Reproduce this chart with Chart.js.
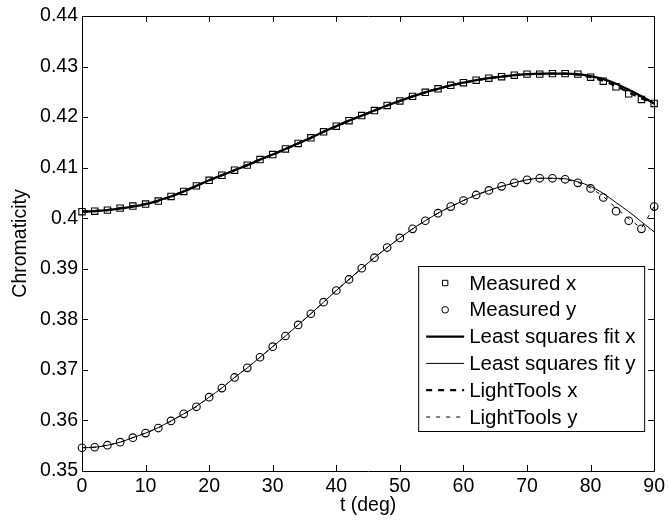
<!DOCTYPE html>
<html>
<head>
<meta charset="utf-8">
<script src="https://cdn.jsdelivr.net/npm/chart.js@4.4.1/dist/chart.umd.min.js"></script>
<style>
html,body{margin:0;padding:0;background:#fff;}
#c{display:block;}
</style>
</head>
<body>
<canvas id="c" width="669" height="522"></canvas>
<script>
// ---- data ----
const angles = [0,2,4,6,8,10,12,14,16,18,20,22,24,26,28,30,32,34,36,38,40,42,44,46,48,50,52,54,56,58,60,62,64,66,68,70,72,74,76,78,80,82,84,86,88,90];

const measuredX = [0.4013,0.4014,0.4016,0.4020,0.4024,0.4028,0.4034,0.4043,0.4053,0.4064,0.4075,0.4085,0.4095,0.4105,0.4116,0.4126,0.4137,0.4148,0.4159,0.4171,0.4182,0.4193,0.4203,0.4213,0.4223,0.4232,0.4241,0.4249,0.4256,0.4263,0.4268,0.4273,0.4277,0.4280,0.4283,0.4285,0.4285,0.4286,0.4286,0.4285,0.4279,0.4271,0.4260,0.4246,0.4235,0.4227];

const measuredY = [0.3546,0.3547,0.3551,0.3557,0.3566,0.3575,0.3585,0.3599,0.3613,0.3627,0.3646,0.3664,0.3685,0.3704,0.3725,0.3746,0.3767,0.3789,0.3811,0.3834,0.3857,0.3879,0.3901,0.3922,0.3942,0.3961,0.3979,0.3995,0.4010,0.4023,0.4035,0.4046,0.4055,0.4063,0.4070,0.4076,0.4079,0.4079,0.4077,0.4070,0.4059,0.4041,0.4014,0.3995,0.3979,0.4023];

const fitX = [0.4013,0.4014,0.4016,0.4019,0.4023,0.4028,0.4035,0.4043,0.4053,0.4064,0.4075,0.4085,0.4095,0.4105,0.4116,0.4126,0.4137,0.4148,0.4159,0.4171,0.4182,0.4193,0.4203,0.4213,0.4223,0.4232,0.4241,0.4249,0.4256,0.4263,0.4268,0.4273,0.4277,0.4280,0.4283,0.4285,0.4286,0.4286,0.4286,0.4285,0.4281,0.4275,0.4266,0.4254,0.4241,0.4227];

const fitY = [0.3546,0.3547,0.3551,0.3557,0.3566,0.3575,0.3586,0.3599,0.3613,0.3628,0.3646,0.3664,0.3685,0.3704,0.3725,0.3746,0.3767,0.3789,0.3811,0.3834,0.3857,0.3879,0.3901,0.3922,0.3942,0.3961,0.3979,0.3995,0.4010,0.4023,0.4035,0.4046,0.4055,0.4063,0.4070,0.4076,0.4079,0.4079,0.4078,0.4072,0.4063,0.4049,0.4031,0.4013,0.3993,0.3973];

const lightToolsX = [0.4013,0.4014,0.4016,0.4020,0.4024,0.4028,0.4034,0.4043,0.4053,0.4064,0.4075,0.4085,0.4095,0.4105,0.4116,0.4126,0.4137,0.4148,0.4159,0.4171,0.4182,0.4193,0.4203,0.4213,0.4223,0.4232,0.4241,0.4249,0.4256,0.4263,0.4268,0.4273,0.4277,0.4280,0.4283,0.4285,0.4285,0.4286,0.4286,0.4284,0.4279,0.4272,0.4262,0.4249,0.4237,0.4227];

const lightToolsY = [0.3546,0.3547,0.3551,0.3557,0.3566,0.3575,0.3585,0.3599,0.3613,0.3627,0.3646,0.3664,0.3685,0.3704,0.3725,0.3746,0.3767,0.3789,0.3811,0.3834,0.3857,0.3879,0.3901,0.3922,0.3942,0.3961,0.3979,0.3995,0.4010,0.4023,0.4035,0.4046,0.4055,0.4063,0.4070,0.4076,0.4079,0.4079,0.4077,0.4071,0.4060,0.4043,0.4020,0.3999,0.3980,0.4023];

const xTickValues = [0,10,20,30,40,50,60,70,80,90];
const yTickValues = [0.35,0.36,0.37,0.38,0.39,0.40,0.41,0.42,0.43,0.44];
const yTickLabels = ['0.35','0.36','0.37','0.38','0.39','0.4','0.41','0.42','0.43','0.44'];

const seriesLabels = ['Measured x','Measured y','Least squares fit x','Least squares fit y','LightTools x','LightTools y'];

// ---- build chart ----
const FONT = "'Liberation Sans', Arial, Helvetica, sans-serif";
function pts(ys){ return angles.map((a,i)=>({x:a,y:ys[i]})); }

const datasets = [
  {label:seriesLabels[0], data:pts(measuredX), showLine:false, pointStyle:'rect', pointRadius:4.5, pointBorderWidth:1.1, pointBorderColor:'#000', pointBackgroundColor:'rgba(0,0,0,0)', clip:false, legendRadius:3.8},
  {label:seriesLabels[1], data:pts(measuredY), showLine:false, pointStyle:'circle', pointRadius:3.8, pointBorderWidth:1.1, pointBorderColor:'#000', pointBackgroundColor:'rgba(0,0,0,0)', clip:false, legendRadius:3.3},
  {label:seriesLabels[2], data:pts(fitX), borderColor:'#000', borderWidth:2.3, pointRadius:0, cubicInterpolationMode:'monotone'},
  {label:seriesLabels[3], data:pts(fitY), borderColor:'#000', borderWidth:1, pointRadius:0, cubicInterpolationMode:'monotone'},
  {label:seriesLabels[4], data:pts(lightToolsX), borderColor:'#000', borderWidth:2.3, borderDash:[6,6], pointRadius:0},
  {label:seriesLabels[5], data:pts(lightToolsY), borderColor:'#000', borderWidth:1, borderDash:[4,6], pointRadius:0}
];

const frame = {
  id:'frame',
  afterDatasetsDraw(chart){
    const {ctx, chartArea:a, scales:{x, y}} = chart;
    ctx.save();
    ctx.strokeStyle = '#000';
    ctx.lineWidth = 1;
    ctx.setLineDash([]);
    ctx.beginPath();
    ctx.rect(Math.round(a.left)+0.5, Math.round(a.top)+0.5, Math.round(a.right-a.left), Math.round(a.bottom-a.top));
    ctx.stroke();
    const L = 6;
    ctx.beginPath();
    xTickValues.forEach(v=>{
      const px = Math.round(x.getPixelForValue(v))+0.5;
      ctx.moveTo(px, a.bottom); ctx.lineTo(px, a.bottom-L);
      ctx.moveTo(px, a.top); ctx.lineTo(px, a.top+L);
    });
    yTickValues.forEach(v=>{
      const py = Math.round(y.getPixelForValue(v))+0.5;
      ctx.moveTo(a.left, py); ctx.lineTo(a.left+L, py);
      ctx.moveTo(a.right, py); ctx.lineTo(a.right-L, py);
    });
    ctx.stroke();

    // legend inside the plot area
    const bx = a.right - 236, by = 266, bw = 226, bh = 165;
    ctx.fillStyle = '#fff';
    ctx.fillRect(bx, by, bw, bh);
    ctx.strokeStyle = '#000'; ctx.lineWidth = 1;
    ctx.strokeRect(bx+0.5, by+0.5, bw, bh);
    ctx.font = "20.5px " + FONT;
    ctx.textBaseline = 'middle';
    ctx.textAlign = 'left';
    ctx.fillStyle = '#000';
    chart.data.datasets.forEach((ds,i)=>{
      const cy = by + 17 + i*26.8;
      const x0 = bx + 8, x1 = bx + 46, xm = (x0+x1)/2;
      if (ds.showLine === false) {
        ctx.lineWidth = 1; ctx.setLineDash([]);
        ctx.beginPath();
        if (ds.pointStyle === 'rect') {
          const s = ds.legendRadius*Math.SQRT1_2;
          ctx.rect(xm-s, cy-s, 2*s, 2*s);
        } else {
          ctx.arc(xm, cy, ds.legendRadius, 0, Math.PI*2);
        }
        ctx.stroke();
      } else {
        ctx.lineWidth = ds.borderWidth;
        ctx.setLineDash(ds.borderDash || []);
        ctx.beginPath(); ctx.moveTo(x0, cy); ctx.lineTo(x1, cy); ctx.stroke();
        ctx.setLineDash([]);
      }
      ctx.fillText(ds.label, bx + 51, cy + 1);
    });
    ctx.restore();
  }
};

new Chart(document.getElementById('c'), {
  type:'line',
  data:{datasets},
  plugins:[frame],
  options:{
    responsive:false,
    animation:false,
    devicePixelRatio:1,
    layout:{padding:{left:0, right:11, top:16, bottom:0}},
    plugins:{legend:{display:false}, tooltip:{enabled:false}},
    scales:{
      x:{
        type:'linear', min:0, max:90,
        afterBuildTicks(s){ s.ticks = xTickValues.map(v=>({value:v})); },
        afterFit(s){ s.height = 51; },
        grid:{display:false, drawTicks:false},
        border:{display:false},
        ticks:{color:'#000', font:{family:FONT, size:19.5}, padding:4, maxRotation:0, autoSkip:false},
        title:{display:true, text:'t (deg)', color:'#000', font:{family:FONT, size:19.5}, padding:{top:0, bottom:5}}
      },
      y:{
        type:'linear', min:0.35, max:0.44,
        afterBuildTicks(s){ s.ticks = yTickValues.map(v=>({value:v})); },
        afterFit(s){ s.width = 82; },
        grid:{display:false, drawTicks:false},
        border:{display:false},
        ticks:{color:'#000', font:{family:FONT, size:19.5}, padding:4, autoSkip:false,
          callback:(v)=>{ const i = yTickValues.findIndex(t=>Math.abs(t-v)<1e-9); return i>=0 ? yTickLabels[i] : ''; }},
        title:{display:true, text:'Chromaticity', color:'#000', font:{family:FONT, size:19.5}, padding:{top:9, bottom:0}}
      }
    }
  }
});
</script>
</body>
</html>
